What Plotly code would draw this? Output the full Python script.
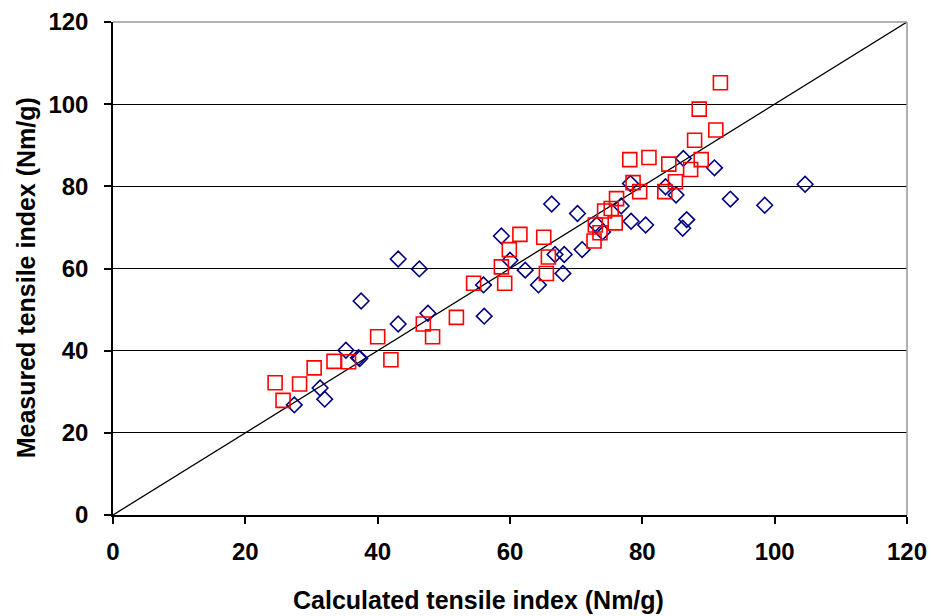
import plotly.graph_objects as go

# series 1 (open navy diamonds)
calc_a = [27.4, 31.3, 32.0, 35.2, 37.1, 37.3, 37.5, 43.1, 46.3, 43.1, 47.6, 56.0, 56.1,
          58.7, 60.0, 62.3, 64.3, 66.3, 66.8, 68.2, 68.0, 70.2, 70.9, 73.1, 74.0, 76.8,
          78.3, 80.5, 78.2, 83.5, 85.1, 86.7, 86.1, 86.2, 90.9, 93.3, 98.5, 104.6]
meas_a = [26.8, 30.9, 28.2, 40.1, 38.3, 38.1, 52.1, 62.3, 59.9, 46.5, 49.1, 56.0, 48.4,
          67.9, 62.0, 59.6, 56.0, 75.7, 63.4, 63.4, 58.8, 73.4, 64.6, 70.6, 68.9, 75.2,
          71.5, 70.6, 80.7, 79.9, 77.9, 71.9, 69.8, 86.8, 84.5, 76.9, 75.4, 80.5]

# series 2 (open red squares)
calc_b = [24.5, 25.7, 28.2, 30.4, 33.4, 35.6, 40.0, 42.0, 46.9, 48.3, 51.9, 54.5, 58.7,
          59.2, 59.9, 61.5, 65.1, 65.8, 65.5, 72.7, 72.9, 73.6, 74.3, 75.3, 75.9, 76.1,
          78.6, 79.6, 78.1, 81.0, 84.0, 83.4, 85.0, 87.3, 87.9, 88.9, 88.6, 91.1, 91.8]
meas_b = [32.2, 27.9, 31.9, 35.8, 37.4, 37.3, 43.4, 37.8, 46.5, 43.4, 48.1, 56.4, 60.4,
          56.4, 64.6, 68.3, 67.6, 62.8, 58.8, 66.7, 70.6, 68.7, 74.0, 74.6, 71.1, 77.0,
          80.9, 78.7, 86.5, 87.0, 85.4, 78.7, 81.1, 84.1, 91.2, 86.5, 98.8, 93.7, 105.2]

# 1:1 line
line_x = [0, 120]
line_y = [0, 120]

tick_vals = [0, 20, 40, 60, 80, 100, 120]

fig = go.Figure()
fig.add_trace(go.Scatter(x=line_x, y=line_y, mode="lines",
                         line=dict(color="black", width=1.3), showlegend=False))
fig.add_trace(go.Scatter(x=calc_a, y=meas_a, mode="markers", showlegend=False,
                         marker=dict(symbol="diamond-open", size=12, color="#000080",
                                     line=dict(width=1.6, color="#000080"))))
fig.add_trace(go.Scatter(x=calc_b, y=meas_b, mode="markers", showlegend=False,
                         marker=dict(symbol="square-open", size=14, color="#ff0000",
                                     line=dict(width=1.6, color="#ff0000"))))

bold = dict(family="Liberation Sans, Arial, sans-serif", weight="bold", color="black")

fig.update_layout(
    width=931, height=616,
    margin=dict(l=113, r=24, t=22, b=101),
    paper_bgcolor="white", plot_bgcolor="white",
    font=dict(family="Liberation Sans, Arial, sans-serif", color="black"),
    shapes=[
        dict(type="line", xref="paper", yref="paper", x0=0, x1=1, y0=1, y1=1,
             line=dict(color="#999999", width=1.5)),
        dict(type="line", xref="paper", yref="paper", x0=1, x1=1, y0=0, y1=1,
             line=dict(color="#999999", width=1.5)),
    ],
    # axis titles sit slightly off-centre in the original, so place them by hand
    annotations=[
        dict(text="Calculated tensile index (Nm/g)", xref="paper", yref="paper",
             x=0.46, y=-0.172, xanchor="center", yanchor="middle",
             showarrow=False, font=dict(size=25, **bold)),
        dict(text="Measured tensile index (Nm/g)", xref="paper", yref="paper",
             x=-0.1096, y=0.482, xanchor="center", yanchor="middle", textangle=-90,
             showarrow=False, font=dict(size=25, **bold)),
    ],
)

fig.update_xaxes(
    range=[0, 120], tickvals=tick_vals, showgrid=False, zeroline=False,
    showline=True, linecolor="black", linewidth=1.5, automargin=False,
    ticks="outside", ticklen=7, tickwidth=1.5, tickcolor="black",
    tickfont=dict(size=24, **bold), ticklabelstandoff=7,
)
fig.update_yaxes(
    range=[0, 120], tickvals=tick_vals, showgrid=True, gridcolor="black", gridwidth=1.3,
    zeroline=False, showline=True, linecolor="black", linewidth=1.5, automargin=False,
    ticks="outside", ticklen=7, tickwidth=1.5, tickcolor="black",
    tickfont=dict(size=24, **bold), ticklabelstandoff=11,
)

# drop the default body margin so the figure sits at the page corner
fig.write_html(
    "out.html",
    config={"displayModeBar": False},
    post_script="document.body.style.margin='0';document.body.style.overflow='hidden';",
)
